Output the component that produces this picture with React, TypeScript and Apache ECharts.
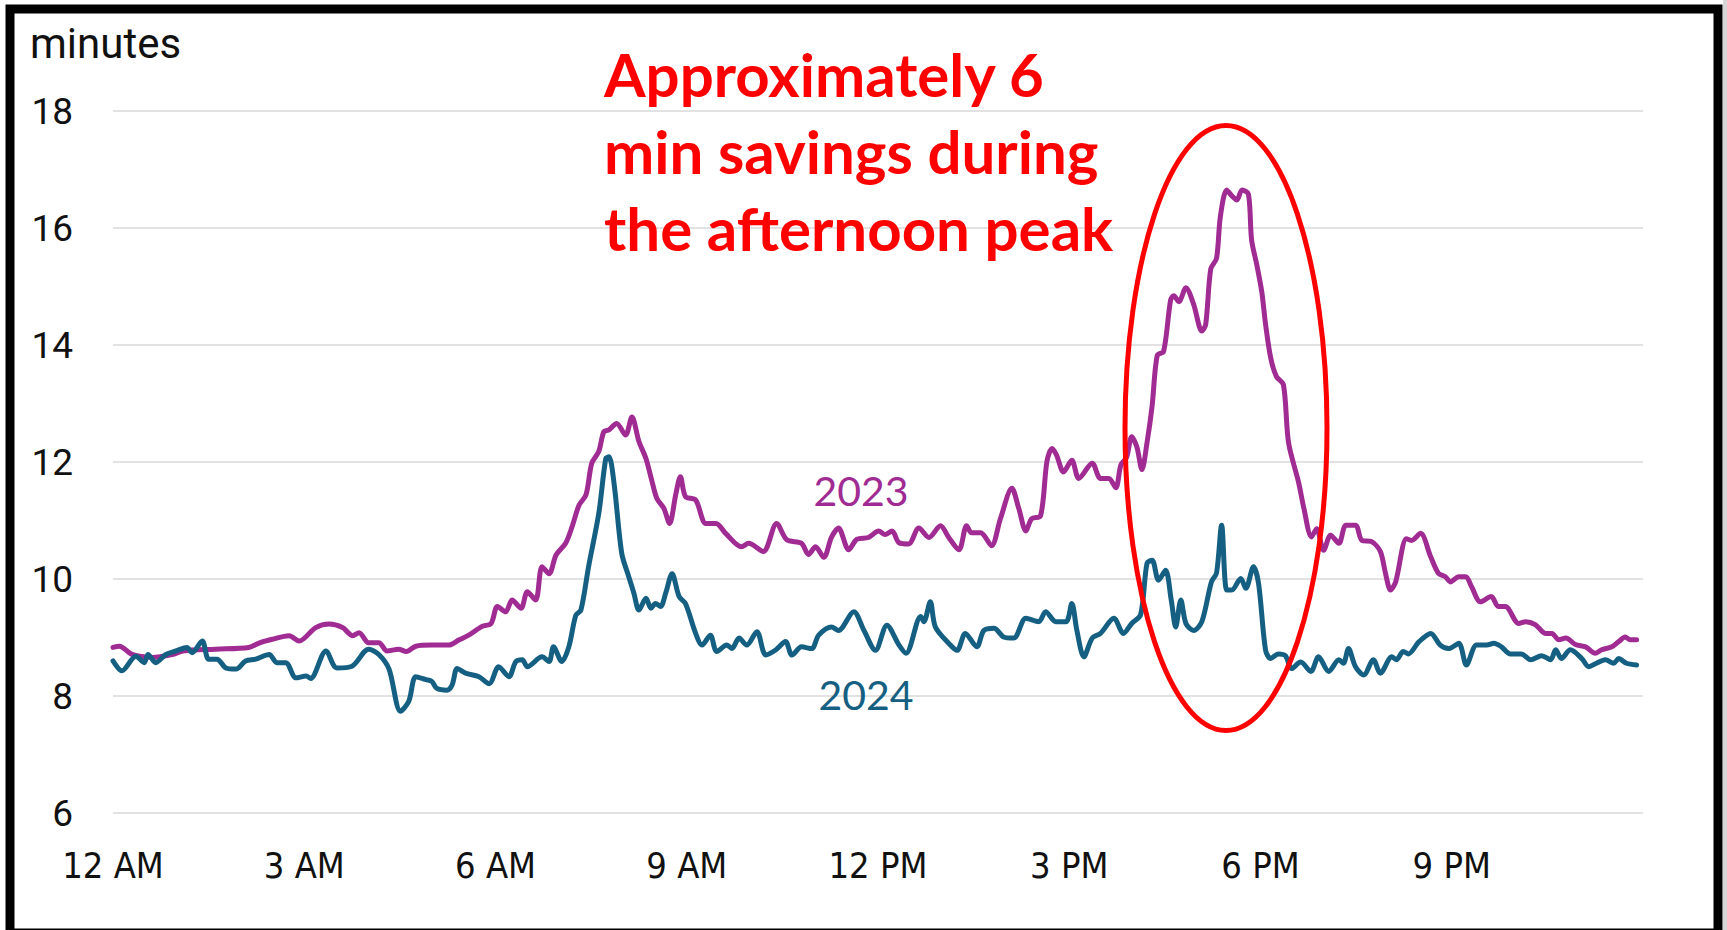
import React, { useEffect, useRef } from "react";
import * as echarts from "echarts";

// ---- data (hour of day, minutes) ----
const hours2023 = [
  0.0, 0.1, 0.3, 0.61, 0.93, 1.1, 1.61, 2.13, 2.3, 2.5, 2.76, 2.92, 3.18, 3.39, 3.6, 3.76, 3.86, 4.01, 4.17, 4.3,
  4.48, 4.6, 4.75, 5.0, 5.27, 5.43, 5.58, 5.79, 5.93, 6.03, 6.16, 6.26, 6.4, 6.5, 6.63, 6.73, 6.84, 6.95, 7.1, 7.2,
  7.31, 7.42, 7.51, 7.62, 7.7, 7.78, 7.9, 8.04, 8.14, 8.25, 8.36, 8.45, 8.53, 8.64, 8.73, 8.83, 8.9, 8.98, 9.14, 9.3,
  9.46, 9.61, 9.86, 9.97, 10.2, 10.41, 10.57, 10.8, 10.91, 11.02, 11.15, 11.27, 11.38, 11.54, 11.67, 11.85, 12.01, 12.11, 12.22, 12.33,
  12.48, 12.64, 12.8, 12.98, 13.11, 13.27, 13.39, 13.47, 13.61, 13.78, 13.92, 14.1, 14.21, 14.32, 14.41, 14.55, 14.65, 14.73, 14.8, 14.91,
  15.04, 15.15, 15.36, 15.49, 15.62, 15.73, 15.81, 15.9, 15.98, 16.06, 16.14, 16.22, 16.3, 16.38, 16.48, 16.59, 16.64, 16.72, 16.83, 16.95,
  17.08, 17.14, 17.22, 17.31, 17.37, 17.47, 17.55, 17.63, 17.71, 17.81, 17.86, 17.94, 18.02, 18.08, 18.16, 18.25, 18.36, 18.44, 18.6, 18.68,
  18.8, 18.88, 18.99, 19.1, 19.23, 19.34, 19.49, 19.59, 19.74, 19.88, 19.96, 20.04, 20.12, 20.29, 20.37, 20.51, 20.67, 20.79, 20.9, 20.98,
  21.11, 21.22, 21.31, 21.45, 21.62, 21.73, 21.84, 22.05, 22.16, 22.31, 22.47, 22.57, 22.68, 22.79, 22.94, 23.1, 23.25, 23.35, 23.51, 23.62,
  23.72, 23.8, 23.9,
];
const minutes2023 = [
  8.83, 8.85, 8.71, 8.66, 8.71, 8.77, 8.8, 8.83, 8.91, 8.97, 9.03, 8.94, 9.17, 9.23, 9.17, 9.03, 9.08, 8.91, 8.91, 8.77,
  8.8, 8.76, 8.85, 8.87, 8.87, 8.96, 9.04, 9.19, 9.24, 9.53, 9.44, 9.64, 9.5, 9.78, 9.64, 10.21, 10.09, 10.41, 10.61, 10.89,
  11.26, 11.44, 11.98, 12.18, 12.52, 12.55, 12.66, 12.46, 12.77, 12.35, 12.06, 11.69, 11.38, 11.21, 10.95, 11.46, 11.75, 11.41, 11.35, 10.95,
  10.95, 10.78, 10.55, 10.61, 10.47, 10.95, 10.67, 10.61, 10.42, 10.55, 10.37, 10.71, 10.87, 10.5, 10.68, 10.71, 10.82, 10.76, 10.82, 10.62,
  10.6, 10.87, 10.71, 10.91, 10.71, 10.5, 10.91, 10.79, 10.79, 10.57, 11.03, 11.55, 11.2, 10.82, 11.03, 11.08, 12.01, 12.23, 12.12, 11.83,
  12.03, 11.72, 11.98, 11.72, 11.72, 11.56, 11.95, 12.08, 12.43, 12.26, 11.87, 12.33, 12.96, 13.82, 13.89, 14.77, 14.84, 14.74, 14.98, 14.7,
  14.24, 14.35, 15.3, 15.48, 16.19, 16.65, 16.55, 16.48, 16.65, 16.58, 15.8, 15.38, 14.91, 14.35, 13.78, 13.46, 13.32, 12.33, 11.64, 11.21,
  10.72, 10.86, 10.49, 10.75, 10.61, 10.92, 10.92, 10.66, 10.64, 10.47, 10.1, 9.81, 9.95, 10.69, 10.66, 10.78, 10.38, 10.1, 10.04, 9.95,
  10.04, 10.04, 9.87, 9.61, 9.7, 9.53, 9.53, 9.24, 9.27, 9.22, 9.07, 9.07, 8.96, 8.99, 8.88, 8.84, 8.73, 8.79, 8.84, 8.93,
  9.01, 8.96, 8.96,
];
const hours2024 = [
  0.0, 0.14, 0.36, 0.49, 0.55, 0.67, 0.83, 0.99, 1.16, 1.24, 1.4, 1.5, 1.63, 1.77, 1.93, 2.08, 2.24, 2.45, 2.57, 2.71,
  2.87, 3.03, 3.1, 3.34, 3.51, 3.75, 4.01, 4.17, 4.33, 4.51, 4.64, 4.75, 4.91, 5.0, 5.08, 5.24, 5.32, 5.4, 5.53, 5.74,
  5.9, 6.05, 6.21, 6.32, 6.42, 6.5, 6.73, 6.84, 6.91, 7.04, 7.15, 7.26, 7.34, 7.46, 7.62, 7.73, 7.78, 7.86, 7.98, 8.09,
  8.17, 8.25, 8.36, 8.44, 8.51, 8.59, 8.67, 8.77, 8.88, 8.98, 9.14, 9.24, 9.37, 9.47, 9.63, 9.71, 9.82, 9.94, 10.1, 10.24,
  10.4, 10.55, 10.65, 10.8, 10.96, 11.07, 11.27, 11.38, 11.62, 11.78, 11.96, 12.14, 12.33, 12.44, 12.67, 12.72, 12.82, 12.9, 13.11, 13.24,
  13.37, 13.55, 13.66, 13.82, 13.97, 14.13, 14.32, 14.52, 14.63, 14.79, 14.95, 15.04, 15.12, 15.23, 15.36, 15.49, 15.7, 15.85, 15.98, 16.12,
  16.22, 16.3, 16.4, 16.51, 16.6, 16.67, 16.75, 16.83, 16.95, 17.08, 17.23, 17.31, 17.39, 17.47, 17.55, 17.69, 17.77, 17.89, 17.97, 18.08,
  18.16, 18.28, 18.39, 18.49, 18.63, 18.79, 18.91, 19.07, 19.23, 19.3, 19.38, 19.49, 19.62, 19.77, 19.88, 20.06, 20.13, 20.24, 20.32, 20.48,
  20.67, 20.82, 20.95, 21.11, 21.23, 21.39, 21.55, 21.66, 21.78, 21.92, 22.09, 22.24, 22.41, 22.55, 22.63, 22.72, 22.86, 23.04, 23.15, 23.27,
  23.41, 23.54, 23.62, 23.74, 23.9,
];
const minutes2024 = [
  8.6, 8.43, 8.68, 8.57, 8.71, 8.57, 8.71, 8.77, 8.83, 8.74, 8.94, 8.63, 8.63, 8.48, 8.46, 8.6, 8.63, 8.71, 8.57, 8.57,
  8.31, 8.34, 8.3, 8.77, 8.48, 8.51, 8.8, 8.71, 8.46, 7.74, 7.91, 8.33, 8.28, 8.25, 8.13, 8.1, 8.19, 8.47, 8.39, 8.33,
  8.21, 8.5, 8.33, 8.59, 8.62, 8.5, 8.67, 8.59, 8.84, 8.59, 8.84, 9.38, 9.47, 10.21, 11.12, 12.06, 12.09, 11.63, 10.44, 10.04,
  9.76, 9.47, 9.67, 9.5, 9.58, 9.53, 9.76, 10.09, 9.7, 9.58, 9.07, 8.87, 9.04, 8.76, 8.87, 8.81, 8.99, 8.87, 9.1, 8.7,
  8.79, 8.93, 8.7, 8.84, 8.81, 9.04, 9.18, 9.12, 9.44, 9.12, 8.78, 9.21, 8.87, 8.73, 9.36, 9.27, 9.61, 9.18, 8.9, 8.78,
  9.07, 8.84, 9.12, 9.16, 9.01, 8.99, 9.33, 9.27, 9.44, 9.27, 9.27, 9.58, 9.12, 8.67, 8.99, 9.07, 9.33, 9.07, 9.24, 9.39,
  10.27, 10.32, 9.98, 10.15, 9.64, 9.18, 9.64, 9.24, 9.12, 9.27, 9.95, 10.1, 10.92, 9.81, 9.81, 10.01, 9.84, 10.21, 9.92, 8.78,
  8.64, 8.72, 8.69, 8.47, 8.58, 8.42, 8.67, 8.42, 8.62, 8.56, 8.81, 8.5, 8.36, 8.62, 8.39, 8.67, 8.62, 8.76, 8.72, 8.92,
  9.07, 8.87, 8.81, 8.9, 8.53, 8.87, 8.87, 8.9, 8.84, 8.72, 8.72, 8.62, 8.69, 8.62, 8.79, 8.64, 8.79, 8.64, 8.5, 8.56,
  8.62, 8.56, 8.64, 8.56, 8.53,
];
const xTickLabels = ["12 AM", "3 AM", "6 AM", "9 AM", "12 PM", "3 PM", "6 PM", "9 PM"];
const yUnit = "minutes";
const seriesNames = ["2023", "2024"];
const annotation = "Approximately 6\nmin savings during\nthe afternoon peak";

const PURPLE = "#A02B93";
const TEAL = "#156082";

export default function App() {
  const ref = useRef<HTMLDivElement>(null);
  useEffect(() => {
    if (!ref.current) return;
    const chart = echarts.init(ref.current, null, { renderer: "svg" });
    const d23 = hours2023.map((h, i) => [h, minutes2023[i]]);
    const d24 = hours2024.map((h, i) => [h, minutes2024[i]]);
    chart.setOption({
      animation: false,
      backgroundColor: "#ffffff",
      grid: { left: 113, right: 84, top: 111, bottom: 117 },
      xAxis: {
        type: "value",
        min: 0,
        max: 24,
        interval: 3,
        axisLine: { show: false },
        axisTick: { show: false },
        splitLine: { show: false },
        axisLabel: {
          margin: 34,
          fontSize: 36,
          fontFamily: '"Liberation Sans Narrow", "DejaVu Sans Condensed", Roboto, sans-serif',
          color: "#111",
          formatter: (v: number) => xTickLabels[Math.round(v / 3)] ?? "",
        },
      },
      yAxis: {
        type: "value",
        min: 6,
        max: 18,
        interval: 2,
        axisLine: { show: false },
        axisTick: { show: false },
        splitLine: { lineStyle: { color: "#D9D9D9", width: 1.5 } },
        axisLabel: { margin: 40, fontSize: 37, fontFamily: "Roboto, sans-serif", color: "#111" },
      },
      series: [
        {
          name: seriesNames[0],
          type: "line",
          data: d23,
          symbol: "none",
          smooth: 0.3,
          lineStyle: { color: PURPLE, width: 5, join: "round", cap: "round" },
          z: 2,
        },
        {
          name: seriesNames[1],
          type: "line",
          data: d24,
          symbol: "none",
          smooth: 0.3,
          lineStyle: { color: TEAL, width: 5, join: "round", cap: "round" },
          z: 3,
        },
      ],
      graphic: [
        {
          type: "text",
          x: 30,
          y: 43,
          style: { text: yUnit, fontSize: 42, fontFamily: "Roboto, sans-serif", fill: "#111", verticalAlign: "middle" },
          silent: true,
        },
        {
          type: "text",
          x: 604,
          y: 35,
          style: {
            text: annotation,
            fontSize: 60,
            fontWeight: "bold",
            fontFamily: "Lato, sans-serif",
            lineHeight: 77,
            fill: "#FF0000",
            verticalAlign: "top",
          },
          silent: true,
          z: 20,
        },
        {
          type: "text",
          x: 861,
          y: 490,
          style: { text: seriesNames[0], fontSize: 41, fontFamily: "Lato, sans-serif", fill: PURPLE, align: "center", verticalAlign: "middle" },
          silent: true,
          z: 20,
        },
        {
          type: "text",
          x: 866,
          y: 694,
          style: { text: seriesNames[1], fontSize: 41, fontFamily: "Lato, sans-serif", fill: TEAL, align: "center", verticalAlign: "middle" },
          silent: true,
          z: 20,
        },
        {
          type: "ellipse",
          shape: { cx: 1226, cy: 428, rx: 101, ry: 302.5 },
          style: { fill: "none", stroke: "#FF0000", lineWidth: 5 },
          silent: true,
          z: 30,
        },
        {
          type: "rect",
          shape: { x: 1723, y: 0, width: 4, height: 930 },
          style: { fill: "#d6d6d6" },
          silent: true,
          z: 39,
        },
        {
          type: "rect",
          shape: { x: 10, y: 9, width: 1708, height: 924 },
          style: { fill: "none", stroke: "#000000", lineWidth: 9 },
          silent: true,
          z: 40,
        },
      ],
    });
    return () => chart.dispose();
  }, []);
  return (
    <div
      ref={ref}
      style={{ position: "fixed", left: 0, top: 0, width: 1727, height: 930, background: "#fff" }}
    />
  );
}
